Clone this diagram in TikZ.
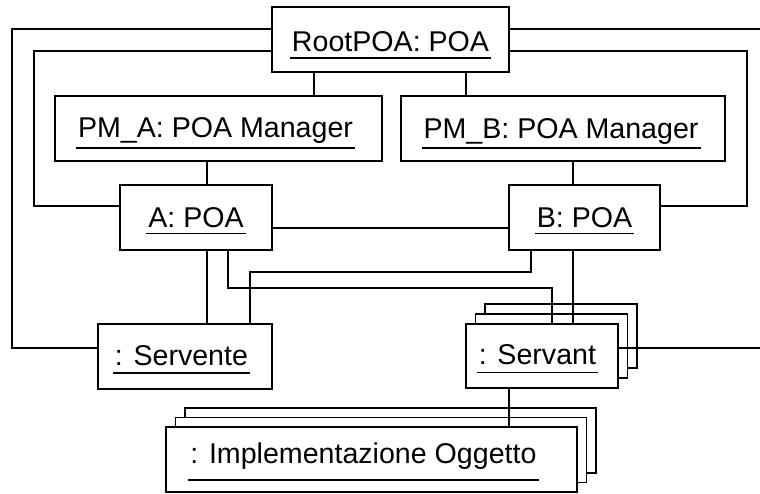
\documentclass[tikz,border=0pt]{standalone}
\usepackage{fontspec}
\setmainfont{Liberation Sans}
\usetikzlibrary{shadows}

% Underlined object name: #1 baseline drop below the box centre,
% #2 gap from baseline to underline, #3 trailing kern (moves text left), #4 text
\newcommand\objlabel[4]{%
  \setbox0=\hbox{#4}%
  \raisebox{0pt}[\dimexpr30pt+#1\relax][\dimexpr30pt-#1\relax]{%
    \rlap{\kern-2pt\rule[\dimexpr-#2-0.8pt\relax]{\dimexpr\wd0+4pt\relax}{1.6pt}}\box0}%
  \kern#3\relax}

\tikzset{
  obj/.style={draw, fill=white, line width=1.6pt, inner sep=0pt,
    minimum height=65pt, font=\fontsize{28.6pt}{34pt}\selectfont},
  multiobj/.style={obj, double copy shadow={shadow xshift=9.5pt,
    shadow yshift=#1, line width=1.6pt}},
  link/.style={line width=1.6pt},
}

\begin{document}
\begin{tikzpicture}[x=1pt, y=-1pt]
  \useasboundingbox (0,0) rectangle (760,493);

  % object boxes
  \node[obj, minimum width=237pt] (root) at (390.5,39.5)
    {\objlabel{11.5pt}{6.7pt}{0pt}{RootPOA: POA}};
  \node[obj, minimum width=327pt] (pma) at (218.5,128.5)
    {\objlabel{9.2pt}{10pt}{6pt}{PM\_A: POA Manager}};
  \node[obj, minimum width=324pt] (pmb) at (563,128.5)
    {\objlabel{9.5pt}{10pt}{4pt}{PM\_B: POA Manager}};
  \node[obj, minimum width=152pt] (a) at (196,217.5)
    {\objlabel{9.8pt}{6pt}{0pt}{A: POA}};
  \node[obj, minimum width=151pt] (b) at (584.5,217.5)
    {\objlabel{10pt}{6pt}{0pt}{B: POA}};
  \node[obj, minimum width=174pt] (servente) at (185,356.5)
    {\objlabel{8.5pt}{7.7pt}{7pt}{: Servente}};
  \node[multiobj=10pt, minimum width=152pt, minimum height=64pt] (servant) at (542,356)
    {\objlabel{8pt}{8.3pt}{9pt}{: Servant}};
  \node[multiobj=9.5pt, minimum width=411pt] (impl) at (371.5,459.5)
    {\objlabel{3.8pt}{16.7pt}{16pt}{: Implementazione Oggetto}};

  % free ends on the right border
  \coordinate (edgetop) at (760,29);
  \coordinate (edgebottom) at (760,348);

  % links
  \draw[link] ([yshift=10.5pt]root.west) -| (12,348) -- ([yshift=8.5pt]servente.west);
  \draw[link] ([yshift=-11.5pt]root.west) -| (34,206) -- ([yshift=11.5pt]a.west);
  \draw[link] ([yshift=10.5pt]root.east) -- (edgetop);
  \draw[link] ([yshift=-11.5pt]root.east) -| (747,206) -- ([yshift=11.5pt]b.east);
  \draw[link] ([xshift=-76.5pt]root.south) -- ([xshift=-76.5pt]root.south |- pma.north);
  \draw[link] ([xshift=75.5pt]root.south) -- ([xshift=75.5pt]root.south |- pmb.north);
  \draw[link] ([xshift=11pt]a.north) -- ([xshift=11pt]a.north |- pma.south);
  \draw[link] ([xshift=-11.5pt]b.north) -- ([xshift=-11.5pt]b.north |- pmb.south);
  \draw[link] ([yshift=-10.5pt]a.east) -- ([yshift=-10.5pt]a.east -| b.west);
  \draw[link] ([xshift=11pt]a.south) -- ([xshift=11pt]a.south |- servente.north);
  \draw[link] ([xshift=32pt]a.south) |- (552,288) -- ([xshift=10pt]servant.north);
  \draw[link] ([xshift=-53.5pt]b.south) |- (250,272) -- ([xshift=65pt]servente.north);
  \draw[link] ([xshift=-11.5pt]b.south) -- ([xshift=-11.5pt]b.south |- servant.north);
  \draw[link] ([yshift=8pt]servant.east) -- (edgebottom);
  \draw[link] ([xshift=-33pt]servant.south) -- ([xshift=-33pt]servant.south |- impl.north);
\end{tikzpicture}
\end{document}
